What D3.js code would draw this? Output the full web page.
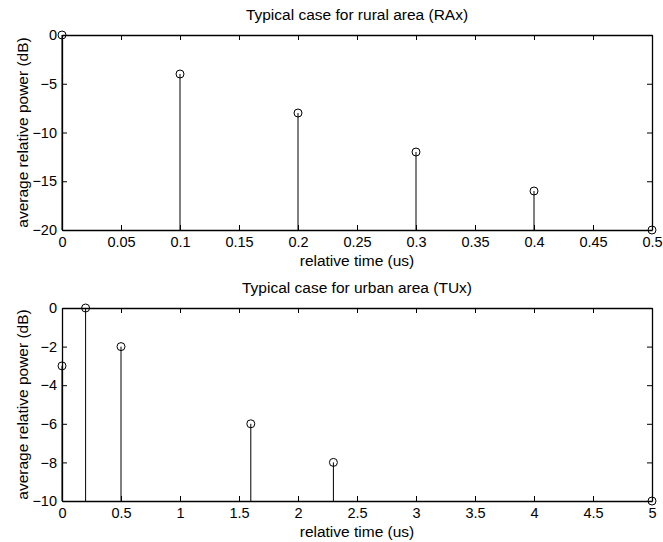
<!DOCTYPE html>
<html>
<head>
<meta charset="utf-8">
<script src="https://cdn.jsdelivr.net/npm/d3@7"></script>
<style>
  body { margin: 0; background: #fff; }
  text { font-family: "Liberation Sans", Arial, sans-serif; fill: #000; }
</style>
</head>
<body>
<div id="chart-area"></div>
<script>
// Data
let ruralTimes = [0, 0.1, 0.2, 0.3, 0.4, 0.5];
let ruralPower = [0, -4, -8, -12, -16, -20];
let ruralXTicks = [0, 0.05, 0.1, 0.15, 0.2, 0.25, 0.3, 0.35, 0.4, 0.45, 0.5];
let ruralYTicks = [0, -5, -10, -15, -20];

let urbanTimes = [0, 0.2, 0.5, 1.6, 2.3, 5.0];
let urbanPower = [-3, 0, -2, -6, -8, -10];
let urbanXTicks = [0, 0.5, 1, 1.5, 2, 2.5, 3, 3.5, 4, 4.5, 5];
let urbanYTicks = [0, -2, -4, -6, -8, -10];

let svg = d3.select("#chart-area").append("svg")
    .attr("width", 663)
    .attr("height", 542);

let tickFont = 14.5;
let labelFont = 15.5;

function fmt(v) {
    return String(v).replace("-", "\u2212");
}

// Draw one stem panel
function drawPanel(top, bottom, title, times, power, xTicks, yTicks, xDomain, yDomain) {
    let left = 62, right = 652;
    let x = d3.scaleLinear().domain(xDomain).range([left, right]);
    let y = d3.scaleLinear().domain(yDomain).range([bottom, top]);

    let g = svg.append("g");

    // bottom axis with labels, ticks inward
    g.append("g")
        .attr("transform", `translate(0,${bottom})`)
        .call(d3.axisBottom(x).tickValues(xTicks).tickSizeInner(-5).tickSizeOuter(0).tickPadding(7).tickFormat(fmt));
    // top axis, ticks only
    g.append("g")
        .attr("transform", `translate(0,${top})`)
        .call(d3.axisTop(x).tickValues(xTicks).tickSizeInner(-5).tickSizeOuter(0).tickFormat(""));
    // left axis with labels
    g.append("g")
        .attr("transform", `translate(${left},0)`)
        .call(d3.axisLeft(y).tickValues(yTicks).tickSizeInner(-5).tickSizeOuter(0).tickPadding(5).tickFormat(fmt));
    // right axis, ticks only
    g.append("g")
        .attr("transform", `translate(${right},0)`)
        .call(d3.axisRight(y).tickValues(yTicks).tickSizeInner(-5).tickSizeOuter(0).tickFormat(""));

    g.selectAll(".domain").attr("stroke", "#000").attr("stroke-width", 1.3);
    g.selectAll(".tick line").attr("stroke", "#000");
    g.selectAll(".tick text")
        .style("font-size", tickFont + "px")
        .style("font-family", "'Liberation Sans', Arial, sans-serif");

    // stems
    let data = times.map((t, i) => ({t: t, p: power[i]}));
    g.selectAll(".stem")
        .data(data)
        .enter()
        .append("line")
        .attr("class", "stem")
        .attr("x1", d => x(d.t))
        .attr("x2", d => x(d.t))
        .attr("y1", d => y(d.p))
        .attr("y2", y(yDomain[0]))
        .attr("stroke", "#000")
        .attr("stroke-width", 1);

    g.selectAll(".mark")
        .data(data)
        .enter()
        .append("circle")
        .attr("class", "mark")
        .attr("cx", d => x(d.t))
        .attr("cy", d => y(d.p))
        .attr("r", 4)
        .attr("fill", "none")
        .attr("stroke", "#000")
        .attr("stroke-width", 1);

    // title
    g.append("text")
        .attr("x", (left + right) / 2)
        .attr("y", top - 15)
        .attr("text-anchor", "middle")
        .style("font-size", labelFont + "px")
        .text(title);

    // axis labels
    g.append("text")
        .attr("x", (left + right) / 2)
        .attr("y", bottom + 36)
        .attr("text-anchor", "middle")
        .style("font-size", labelFont + "px")
        .text("relative time (us)");

    g.append("text")
        .attr("transform", `translate(28,${(top + bottom) / 2}) rotate(-90)`)
        .attr("text-anchor", "middle")
        .style("font-size", labelFont + "px")
        .text("average relative power (dB)");
}

drawPanel(35, 230, "Typical case for rural area (RAx)", ruralTimes, ruralPower,
    ruralXTicks, ruralYTicks, [0, 0.5], [-20, 0]);
drawPanel(308, 501, "Typical case for urban area (TUx)", urbanTimes, urbanPower,
    urbanXTicks, urbanYTicks, [0, 5], [-10, 0]);
</script>
</body>
</html>
